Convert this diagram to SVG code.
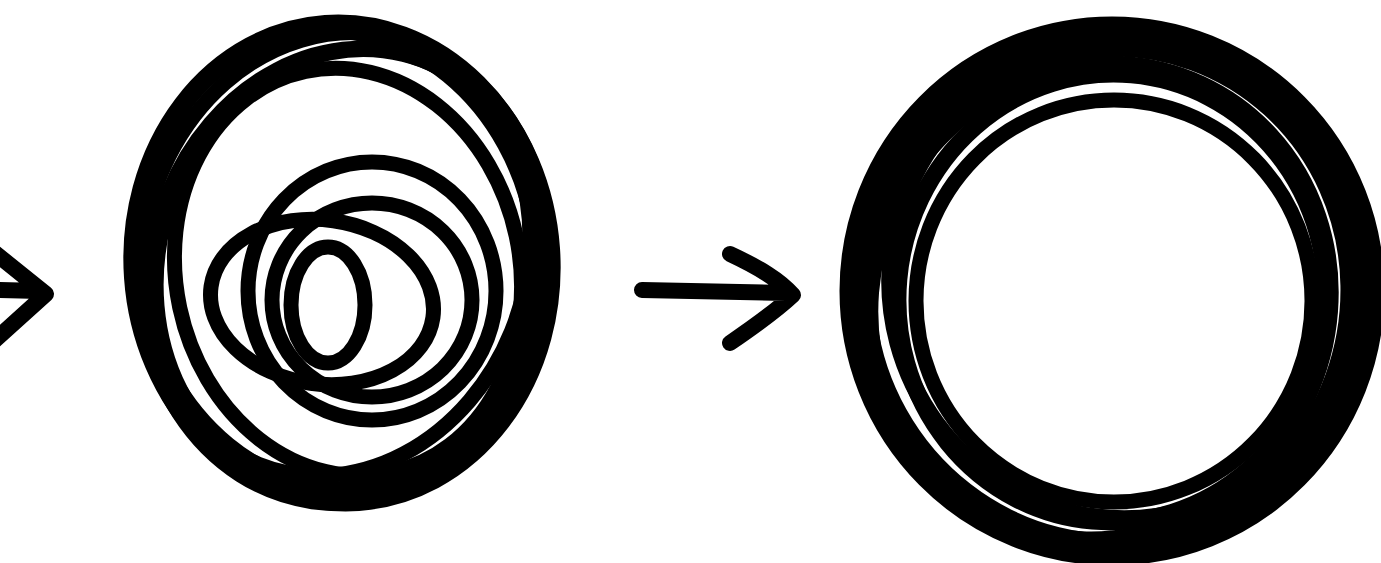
<svg xmlns="http://www.w3.org/2000/svg" width="1381" height="563" viewBox="0 0 1381 563">
<style>
.s{fill:none;stroke:#000;stroke-linecap:round;stroke-linejoin:round}
.a{stroke-width:16}
.m{stroke-width:15}
.r{stroke-width:17}
</style>
<rect width="1381" height="563" fill="#fff"/>
<g id="connectors">
<path class="s a" d="M-5 290 L40 291 M-5 253 L46 294 L-5 340"/>
<path class="s a" d="M642 290 L786 293 M730 254 C760 268 780 280 793 295 C775 312 752 328 730 343"/>
</g>
<g id="scribble-left">
<ellipse class="s m" cx="342" cy="263" rx="211" ry="241" transform="rotate(-4 342 263)"/>
<ellipse class="s m" cx="345" cy="268" rx="204" ry="236" transform="rotate(8 345 268)"/>
<ellipse class="s m" cx="338" cy="260" rx="198" ry="230" transform="rotate(-10 338 260)"/>
<ellipse class="s m" cx="350" cy="270" rx="192" ry="222" transform="rotate(14 350 270)"/>
<ellipse class="s m" cx="340" cy="262" rx="185" ry="218" transform="rotate(22 340 262)"/>
<ellipse class="s m" cx="348" cy="272" rx="172" ry="205" transform="rotate(-12 348 272)"/>
<ellipse class="s m" cx="372" cy="291" rx="124" ry="129"/>
<ellipse class="s m" cx="372" cy="300" rx="100" ry="97"/>
<ellipse class="s m" cx="322" cy="302" rx="112" ry="82" transform="rotate(8 322 302)"/>
<ellipse class="s m" cx="328" cy="305" rx="37" ry="58"/>
</g>
<g id="scribble-right">
<ellipse class="s r" cx="1112" cy="291" rx="264" ry="266"/>
<ellipse class="s r" cx="1110" cy="290" rx="257" ry="261" transform="rotate(10 1110 290)"/>
<ellipse class="s r" cx="1115" cy="288" rx="249" ry="255" transform="rotate(-8 1115 288)"/>
<ellipse class="s r" cx="1108" cy="295" rx="240" ry="248" transform="rotate(20 1108 295)"/>
<ellipse class="s r" cx="1122" cy="283" rx="232" ry="236" transform="rotate(-15 1122 283)"/>
<ellipse class="s r" cx="1100" cy="302" rx="228" ry="240" transform="rotate(25 1100 302)"/>
<ellipse class="s r" cx="1112" cy="298" rx="214" ry="224" transform="rotate(5 1112 298)"/>
<ellipse class="s m" cx="1114" cy="301" rx="198" ry="201"/>
</g>
</svg>
